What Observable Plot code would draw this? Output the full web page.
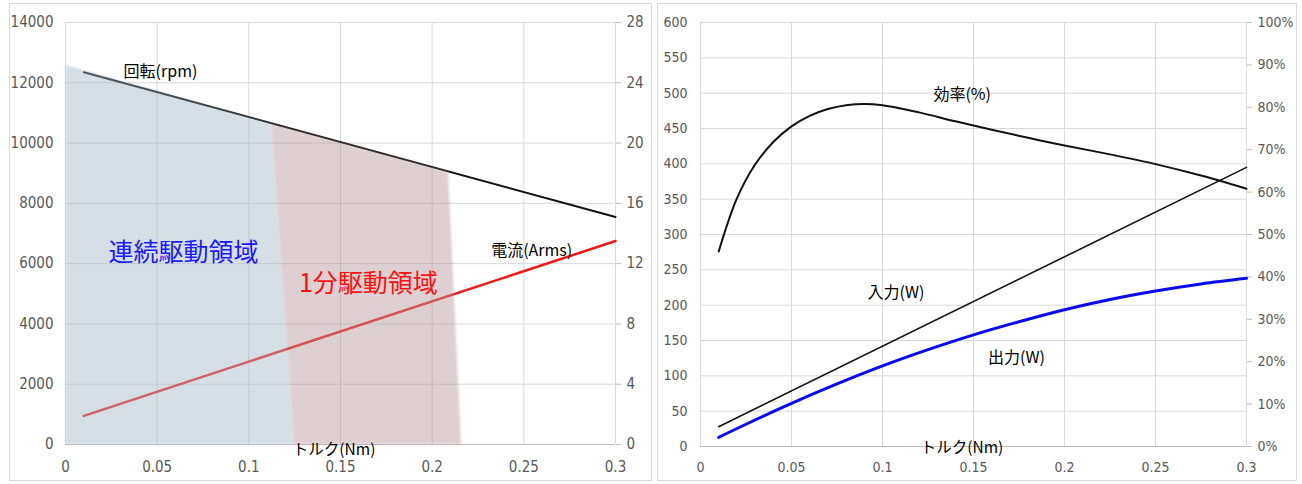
<!DOCTYPE html>
<html><head><meta charset="utf-8">
<script src="https://cdn.jsdelivr.net/npm/d3@7"></script>
<script src="https://cdn.jsdelivr.net/npm/@observablehq/plot@0.6"></script>
<style>
body{margin:0;background:#fff;width:1302px;height:484px;overflow:hidden;position:relative;}
.panel{position:absolute;border:1px solid #d9d9d9;box-sizing:border-box;background:#fff;}
.panel svg{display:block;}
</style></head><body>
<div id="left" class="panel" style="left:9px;top:3px;width:643px;height:478px"></div>
<div id="right" class="panel" style="left:657px;top:3px;width:640px;height:478px"></div>
<script>
// ---- shared x axis ----
const torqueTicks = [0, 0.05, 0.1, 0.15, 0.2, 0.25, 0.3];
const torqueTickLabels = ["0", "0.05", "0.1", "0.15", "0.2", "0.25", "0.3"];

// ---- left chart ----
const rpmTicks = [0, 2000, 4000, 6000, 8000, 10000, 12000, 14000];
const currentTickLabels = ["0", "4", "8", "12", "16", "20", "24", "28"];
const rpmTorque = [0.01, 0.3];
const rpmValues = [12350, 7550];
const currentTorque = [0.01, 0.3];
const currentValues = [1.9, 13.5];
const contTorque = [0, 0, 0.112, 0.1246];
const contRpm = [0, 12600, 10660, 0];
const shortTorque = [0.1246, 0.112, 0.2087, 0.2158];
const shortRpm = [0, 10660, 9060, 0];

// ---- right chart ----
const wattTicks = [0, 50, 100, 150, 200, 250, 300, 350, 400, 450, 500, 550, 600];
const pctTicks = [0, 10, 20, 30, 40, 50, 60, 70, 80, 90, 100];
const inputTorque = [0.01, 0.3];
const inputWatts = [28, 395];
const outputTorque = [0.01, 0.025, 0.05, 0.075, 0.1, 0.125, 0.15, 0.175, 0.2, 0.225, 0.25, 0.275, 0.3];
const outputWatts = [13, 31.5, 61, 88.5, 114, 137, 158, 176.5, 193.5, 208, 220, 230, 238];
const effTorque = [0.01, 0.02, 0.03, 0.04, 0.05, 0.06, 0.07, 0.08, 0.09, 0.1, 0.12, 0.14, 0.16, 0.18, 0.2, 0.225, 0.25, 0.275, 0.3];
const effPct = [46, 58.5, 66.5, 71.8, 75.5, 78, 79.6, 80.5, 80.8, 80.5, 78.8, 76.7, 74.7, 72.8, 71, 68.9, 66.6, 63.9, 60.8];

const rpmData = rpmTorque.map((t, i) => ({torque: t, rpm: rpmValues[i]}));
const currentData = currentTorque.map((t, i) => ({torque: t, current: currentValues[i]}));
const contRegion = contTorque.map((t, i) => ({torque: t, rpm: contRpm[i]}));
const shortRegion = shortTorque.map((t, i) => ({torque: t, rpm: shortRpm[i]}));
const inputData = inputTorque.map((t, i) => ({torque: t, w: inputWatts[i]}));
const outputData = outputTorque.map((t, i) => ({torque: t, w: outputWatts[i]}));
const effData = effTorque.map((t, i) => ({torque: t, pct: effPct[i]}));

const tickFont = '"Liberation Sans Narrow", "DejaVu Sans Condensed", "Liberation Sans", sans-serif';
const cjk = '"Noto Sans CJK JP", sans-serif';
const currentScale = 14000 / 28;
const pctScale = 600 / 100;

function label(x, y, t, size, fill) {
  return Plot.text([{x, y, t}], {x: "x", y: "y", text: "t", textAnchor: "start", fontSize: size, fill: fill || "#000", fontFamily: cjk});
}

const leftPlot = Plot.plot({
  width: 641, height: 476,
  marginLeft: 55, marginRight: 36, marginTop: 18, marginBottom: 36,
  x: {domain: [0, 0.3]},
  y: {domain: [0, 14000]},
  style: {fontFamily: tickFont, fontSize: "15px", color: "#595959", background: "transparent", overflow: "visible"},
  marks: [
    Plot.gridX(torqueTicks, {stroke: "#d9d9d9", strokeOpacity: 1}),
    Plot.gridY(rpmTicks, {stroke: "#d9d9d9", strokeOpacity: 1}),
    Plot.ruleY([0], {stroke: "#bfbfbf"}),
    Plot.axisY(rpmTicks, {anchor: "left", tickSize: 0, tickPadding: 12, label: null, tickFormat: d => String(d)}),
    Plot.axisY(rpmTicks, {anchor: "right", tickSize: 5, tickPadding: 6, label: null, stroke: "#bfbfbf", tickFormat: d => currentTickLabels[rpmTicks.indexOf(d)]}),
    Plot.axisX(torqueTicks, {tickSize: 0, tickPadding: 17, label: null, tickFormat: d => torqueTickLabels[torqueTicks.indexOf(d)]}),
    Plot.line(rpmData, {x: "torque", y: "rpm", stroke: "#111", strokeWidth: 2}),
    Plot.line(currentData, {x: "torque", y: d => d.current * currentScale, stroke: "#f01818", strokeWidth: 2.5}),
    Plot.line(contRegion, {x: "torque", y: "rpm", fill: "#a4b8c7", fillOpacity: 0.45, stroke: "none", imageFilter: "blur(1px)"}),
    Plot.line(shortRegion, {x: "torque", y: "rpm", fill: "#b6979b", fillOpacity: 0.45, stroke: "none", imageFilter: "blur(1px)"}),
    label(0.0317, 12374, "回転(rpm)", 16),
    label(0.2322, 6436, "電流(Arms)", 16),
    label(0.0235, 6337, "連続駆動領域", 25, "#1a1aff"),
    label(0.1273, 5341, "1分駆動領域", 25, "#ff1010"),
    label(0.124, -170, "トルク(Nm)", 15.5)
  ]
});
document.getElementById("left").appendChild(leftPlot);

const rightPlot = Plot.plot({
  width: 638, height: 476,
  marginLeft: 42, marginRight: 50, marginTop: 18, marginBottom: 34,
  x: {domain: [0, 0.3]},
  y: {domain: [0, 600]},
  style: {fontFamily: tickFont, fontSize: "14px", color: "#595959", background: "transparent", overflow: "visible"},
  marks: [
    Plot.gridX(torqueTicks, {stroke: "#d9d9d9", strokeOpacity: 1}),
    Plot.gridY(wattTicks, {stroke: "#d9d9d9", strokeOpacity: 1}),
    Plot.ruleY([0], {stroke: "#bfbfbf"}),
    Plot.axisY(wattTicks, {anchor: "left", tickSize: 0, tickPadding: 13, label: null, tickFormat: d => String(d)}),
    Plot.axisY(pctTicks.map(p => p * pctScale), {anchor: "right", tickSize: 5, tickPadding: 6, label: null, stroke: "#bfbfbf", tickFormat: d => Math.round(d / pctScale) + "%"}),
    Plot.axisX(torqueTicks, {tickSize: 0, tickPadding: 16, label: null, tickFormat: d => torqueTickLabels[torqueTicks.indexOf(d)]}),
    Plot.line(inputData, {x: "torque", y: "w", stroke: "#111", strokeWidth: 1.6}),
    Plot.line(outputData, {x: "torque", y: "w", stroke: "#0a0af0", strokeWidth: 3, curve: "catmull-rom"}),
    Plot.line(effData, {x: "torque", y: d => d.pct * pctScale, stroke: "#111", strokeWidth: 2, curve: "catmull-rom"}),
    label(0.128, 497, "効率(%)", 16),
    label(0.0918, 218, "入力(W)", 16),
    label(0.158, 126, "出力(W)", 16),
    label(0.121, -2, "トルク(Nm)", 15.5)
  ]
});
document.getElementById("right").appendChild(rightPlot);
</script>
</body></html>
